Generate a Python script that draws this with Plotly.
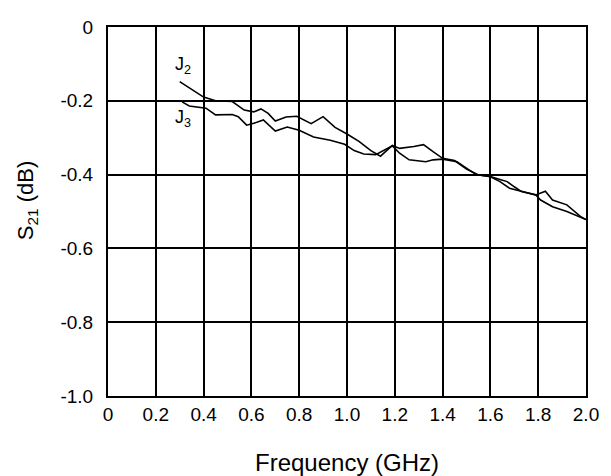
import plotly.graph_objects as go

j2_freq = [0.30, 0.35, 0.40, 0.45, 0.52, 0.57, 0.61, 0.64, 0.67, 0.70, 0.745, 0.79, 0.85, 0.90, 0.95,
           1.00, 1.05, 1.10, 1.14, 1.19, 1.22, 1.28, 1.32, 1.36, 1.40, 1.45, 1.50, 1.55, 1.60, 1.64,
           1.67, 1.70, 1.73, 1.79, 1.83, 1.86, 1.92, 1.98, 2.00]
j2_s21 = [-0.148, -0.170, -0.190, -0.200, -0.202, -0.225, -0.230, -0.222, -0.234, -0.255, -0.244,
          -0.242, -0.262, -0.243, -0.272, -0.290, -0.310, -0.335, -0.350, -0.321, -0.329, -0.324,
          -0.319, -0.338, -0.356, -0.362, -0.385, -0.401, -0.405, -0.413, -0.419, -0.433, -0.446,
          -0.455, -0.445, -0.469, -0.482, -0.515, -0.522]

j3_freq = [0.31, 0.34, 0.41, 0.45, 0.52, 0.545, 0.58, 0.61, 0.65, 0.70, 0.75, 0.80, 0.86, 0.93, 0.99,
           1.03, 1.07, 1.12, 1.19, 1.22, 1.26, 1.33, 1.36, 1.40, 1.46, 1.50, 1.54, 1.60, 1.64, 1.68,
           1.73, 1.79, 1.81, 1.86, 1.92, 1.98, 2.00]
j3_s21 = [-0.203, -0.214, -0.220, -0.238, -0.237, -0.243, -0.266, -0.261, -0.252, -0.282, -0.271,
          -0.280, -0.298, -0.307, -0.318, -0.335, -0.344, -0.346, -0.322, -0.342, -0.360, -0.365,
          -0.360, -0.358, -0.365, -0.383, -0.400, -0.406, -0.419, -0.437, -0.446, -0.455, -0.469,
          -0.487, -0.500, -0.515, -0.522]

x_ticks = [0, 0.2, 0.4, 0.6, 0.8, 1.0, 1.2, 1.4, 1.6, 1.8, 2.0]
x_tick_text = ["0", "0.2", "0.4", "0.6", "0.8", "1.0", "1.2", "1.4", "1.6", "1.8", "2.0"]
y_ticks = [0, -0.2, -0.4, -0.6, -0.8, -1.0]
y_tick_text = ["0", "-0.2", "-0.4", "-0.6", "-0.8", "-1.0"]

FONT = "Liberation Sans, Arial, Helvetica, sans-serif"

fig = go.Figure()
fig.add_trace(go.Scatter(x=j2_freq, y=j2_s21, mode="lines", name="J2",
                         line=dict(color="black", width=1.6), showlegend=False))
fig.add_trace(go.Scatter(x=j3_freq, y=j3_s21, mode="lines", name="J3",
                         line=dict(color="black", width=1.6), showlegend=False))

fig.add_annotation(x=0.312, y=-0.103, text="J<sub>2</sub>", showarrow=False,
                   font=dict(family=FONT, size=18, color="black"), xanchor="center", yanchor="middle")
fig.add_annotation(x=0.312, y=-0.248, text="J<sub>3</sub>", showarrow=False,
                   font=dict(family=FONT, size=18, color="black"), xanchor="center", yanchor="middle")

# axis titles as annotations (positioned like the reference)
fig.add_annotation(xref="paper", yref="y", x=-0.168, y=-0.47, text="S<sub>21</sub> (dB)",
                   showarrow=False, textangle=-90, xanchor="center", yanchor="middle",
                   font=dict(family=FONT, size=22, color="black"))
fig.add_annotation(xref="x", yref="paper", x=1.0, y=-0.18, text="Frequency (GHz)",
                   showarrow=False, xanchor="center", yanchor="middle",
                   font=dict(family=FONT, size=24, color="black"))

fig.update_layout(
    width=611, height=476,
    margin=dict(l=108, r=21, t=27, b=80),
    paper_bgcolor="white", plot_bgcolor="white",
    font=dict(family=FONT, color="black"),
)
fig.update_xaxes(
    range=[0, 2], tickvals=x_ticks, ticktext=x_tick_text,
    showgrid=True, gridcolor="black", gridwidth=2,
    showline=True, linecolor="black", linewidth=2, mirror=True,
    ticks="", ticklabelstandoff=0, zeroline=False,
    tickfont=dict(family=FONT, size=19, color="black"),
)
fig.update_yaxes(
    range=[-1, 0], tickvals=y_ticks, ticktext=y_tick_text,
    showgrid=True, gridcolor="black", gridwidth=2,
    showline=True, linecolor="black", linewidth=2, mirror=True,
    ticks="", ticklabelstandoff=9, zeroline=False,
    tickfont=dict(family=FONT, size=19, color="black"),
)

fig.write_html("out.html")
